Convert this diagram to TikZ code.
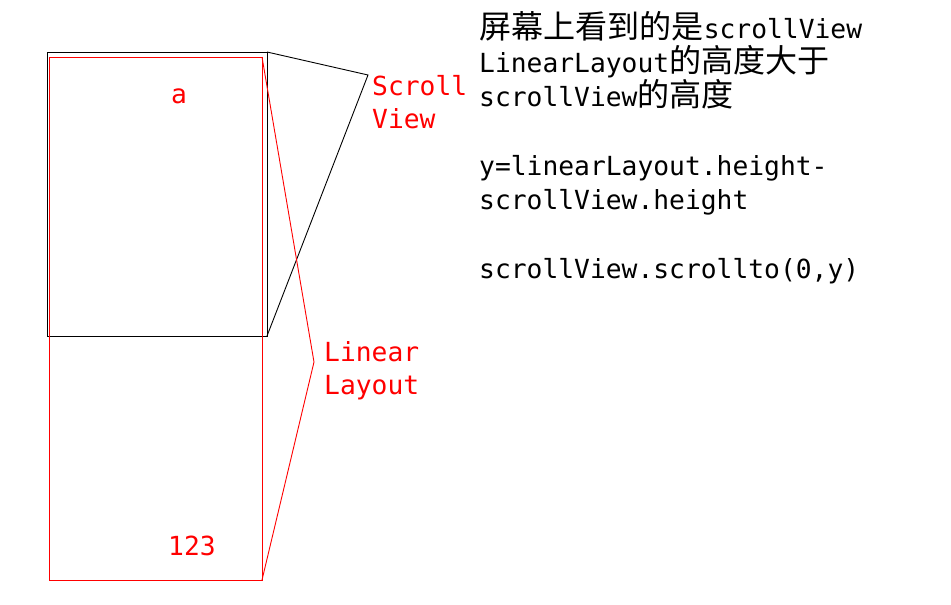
\documentclass[tikz,border=0pt]{standalone}
\usepackage{fontspec}
\setmonofont{DejaVu Sans Mono}
\newfontfamily\cjk[Scale=1.22]{Noto Sans CJK SC}
\usetikzlibrary{positioning}

\begin{document}
\begin{tikzpicture}[x=1pt, y=-1pt,
    box/.style={draw, rectangle, inner sep=0pt, outer sep=0pt},
    lbl/.style={inner sep=0pt, anchor=base west, font=\fontsize{26.3}{33}\selectfont\ttfamily},
    redlbl/.style={lbl, text=red}]
  \useasboundingbox (0,0) rectangle (951,605);
  % the two views
  \node[box, line width=1pt, minimum width=220pt, minimum height=284pt] (sv) at (157,194) {};
  \node[box, red, line width=1pt, minimum width=213pt, minimum height=523pt] (ll) at (155.5,318.5) {};
  \node[redlbl] (ta) at (171,103) {a};
  \node[redlbl] (tnum) at (168,555) {123};
  % pointers to the labels
  \coordinate (svtip) at (368,75);
  \coordinate (lltip) at (314,362);
  \draw[line width=0.9pt] (sv.north east) -- (svtip) -- (sv.south east);
  \draw[red, line width=0.9pt] (ll.north east) -- (lltip) -- (ll.south east);
  \node[redlbl] (svname) at (372,95) {Scroll};
  \node[redlbl] (svname2) at (372,128) {View};
  \node[redlbl] (llname) at (324,361) {Linear};
  \node[redlbl] (llname2) at (324,394) {Layout};
  % notes
  \node[lbl] (n1) at (479,38) {{\cjk 屏幕上看到的是}scrollView};
  \node[lbl] (n2) at (479,72.3) {LinearLayout{\cjk 的高度大于}};
  \node[lbl] (n3) at (479,106.6) {scrollView{\cjk 的高度}};
  \node[lbl] (n4) at (479,175.2) {y=linearLayout.height-};
  \node[lbl] (n5) at (479,209.5) {scrollView.height};
  \node[lbl] (n6) at (479,278.1) {scrollView.scrollto(0,y)};
\end{tikzpicture}
\end{document}
